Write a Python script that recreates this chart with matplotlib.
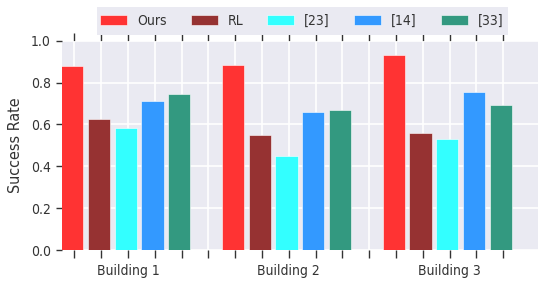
import matplotlib
matplotlib.use("Agg")
import matplotlib.pyplot as plt
import numpy as np
from matplotlib.patches import Rectangle

plt.rcParams["font.family"] = "DejaVu Sans"
plt.rcParams["font.stretch"] = "condensed"

# values
buildings = ["Building 1", "Building 2", "Building 3"]
methods = ["Ours", "RL", "[23]", "[14]", "[33]"]
ours = [0.877, 0.882, 0.933]
rl = [0.624, 0.551, 0.560]
ref23 = [0.581, 0.451, 0.532]
ref14 = [0.710, 0.660, 0.754]
ref33 = [0.744, 0.667, 0.695]
colors = ["#FF3333", "#963232", "#33FFFF", "#3399FF", "#339980"]

series = [ours, rl, ref23, ref14, ref33]
n_methods = len(methods)
group_step = n_methods + 1
TXT = "#333333"
BG = "#EAEAF2"

W, H = 538, 291
fig = plt.figure(figsize=(W / 100, H / 100), dpi=100)
ax = fig.add_axes([62 / W, 1 - 250 / H, (W - 62) / W, 209.3 / H])
ax.set_facecolor(BG)
for s in ax.spines.values():
    s.set_visible(False)

for i, (name, vals, col) in enumerate(zip(methods, series, colors)):
    xs = np.arange(len(buildings)) * group_step + i
    ax.bar(xs - 0.5, vals, width=0.83, align="edge", color=col,
           edgecolor="white", linewidth=0.4, label=name, zorder=2)

n_slots = len(buildings) * group_step - 1
ax.xaxis.remove_overlapping_locs = False
ax.set_xticks(np.arange(n_slots))
ax.set_xticklabels([])
centers = np.arange(len(buildings)) * group_step + (n_methods - 1) / 2
ax.set_xticks(centers, minor=True)
ax.set_xticklabels(buildings, minor=True, fontsize=10, color=TXT)
ax.tick_params(axis="x", which="minor", length=0, pad=10)
ax.tick_params(axis="x", which="major", direction="out", length=5.5, width=1,
               color=TXT, top=True, bottom=True)
ax.set_xlim(-0.46, 17.3)

ax.set_ylim(0, 1.0)
yt = np.arange(0, 1.01, 0.2)
ax.set_yticks(yt)
ax.set_yticklabels([f"{v:.1f}" for v in yt], fontsize=10, color=TXT)
ax.tick_params(axis="y", direction="out", length=4, width=1, pad=4, color=TXT)
ax.set_ylabel("Success Rate", fontsize=11.5, color=TXT, labelpad=6)

ax.grid(True, color="white", linewidth=1.2, zorder=0)
ax.set_axisbelow(True)

# legend box drawn separately so its padding matches the reference
fig.patches.append(Rectangle((97 / W, 1 - 35 / H), 411 / W, 28 / H,
                             transform=fig.transFigure, facecolor=BG,
                             edgecolor="none", zorder=0))
leg = fig.legend(loc="center left", bbox_to_anchor=(100 / W, 1 - 21 / H),
                 borderaxespad=0, borderpad=0, ncol=5, fontsize=10,
                 frameon=False, handlelength=1.95, handleheight=0.65,
                 handletextpad=0.7, columnspacing=1.75)
for t in leg.get_texts():
    t.set_color(TXT)

fig.savefig("out.png", dpi=100)
